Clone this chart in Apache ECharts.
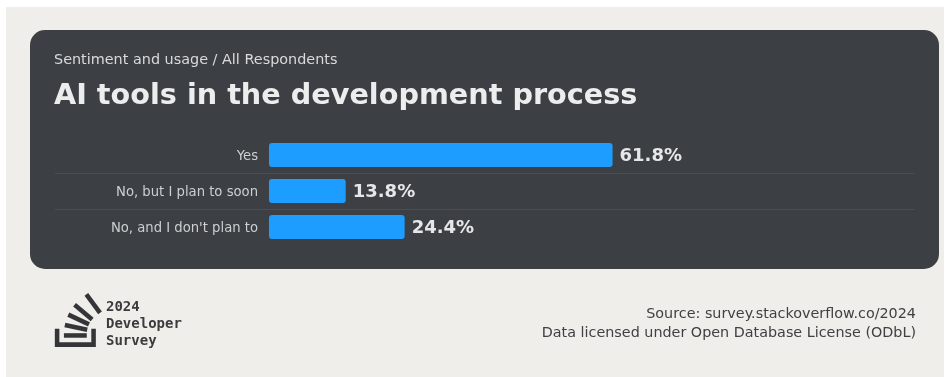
<!DOCTYPE html>
<html>
<head>
<meta charset="utf-8">
<script src="https://cdn.jsdelivr.net/npm/echarts@6/dist/echarts.min.js"></script>
<style>
  html, body { margin: 0; padding: 0; background: #ffffff; }
  #chart { width: 952px; height: 377px; }
</style>
</head>
<body>
<div id="chart"></div>
<script>
// Survey answers, top to bottom
const categories = ['Yes', 'No, but I plan to soon', "No, and I don't plan to"];
const shares = [61.8, 13.8, 24.4];

const subtitle = 'Sentiment and usage / All Respondents';
const title = 'AI tools in the development process';
const sourceLines = ['Source: survey.stackoverflow.co/2024', 'Data licensed under Open Database License (ODbL)'];
const badgeLines = ['2024', 'Developer', 'Survey'];

const FONT = '"DejaVu Sans", sans-serif';
const MONO = '"DejaVu Sans Mono", monospace';

// Stack logo outline (120-unit design grid), scaled into the footer
const logoShapes = [
  [[84.4,93.8],[84.4,70.6],[92.1,70.6],[92.1,101.5],[22.6,101.5],[22.6,70.6],[30.3,70.6],[30.3,93.8]],
  [[38.8,68.4],[76.7,76.3],[78.3,68.7],[40.4,60.8]],
  [[43.8,50.4],[78.9,66.8],[82.1,59.8],[47,43.3]],
  [[53.6,33.1],[83.4,57.9],[88.3,52],[58.5,27.2]],
  [[72.9,14.8],[96.1,46],[102.3,41.4],[79.1,10.2]],
  [[38,86],[76.7,86],[76.7,78.3],[38,78.3]]
];
const logoScale = 0.59, logoX = 41.5, logoY = 287;
const logoGraphics = logoShapes.map(pts => ({
  type: 'polygon',
  shape: { points: pts.map(p => [logoX + p[0] * logoScale, logoY + p[1] * logoScale]) },
  style: { fill: '#333538' },
  z: 5
}));

const chart = echarts.init(document.getElementById('chart'), null, { renderer: 'canvas' });

const gridTop = 137, gridBottom = 377 - 245;

chart.setOption({
  animation: false,
  backgroundColor: '#ffffff',
  graphic: [
    { type: 'rect', shape: { x: 6, y: 7, width: 938, height: 370 }, style: { fill: '#efeeeb' }, z: -10 },
    { type: 'rect', shape: { x: 30, y: 30, width: 909, height: 239, r: 15 }, style: { fill: '#3c4044' }, z: -9 },
    { type: 'text', left: 54, top: 53, style: { text: subtitle, font: '14.4px ' + FONT, fill: '#d9dadb' }, z: 5 },
    { type: 'text', left: 54, top: 82, style: { text: title, font: 'bold 28.7px ' + FONT, fill: '#eceded' }, z: 5 },
    ...badgeLines.map((t, i) => ({
      type: 'text', left: 106, top: 300 + i * 17,
      style: { text: t, font: 'bold 14px ' + MONO, fill: '#3a3b3d' }, z: 5
    })),
    ...sourceLines.map((t, i) => ({
      type: 'text', right: 36, top: 307 + i * 19,
      style: { text: t, font: '14.35px ' + FONT, fill: '#3f4042', textAlign: 'right' }, z: 5
    })),
    ...logoGraphics
  ],
  grid: [
    { left: 269, right: 37, top: gridTop, bottom: gridBottom },
    { left: 55, right: 37, top: gridTop, bottom: gridBottom }
  ],
  xAxis: [
    { type: 'value', gridIndex: 0, min: 0, max: 116.2, show: false, splitLine: { show: false } },
    { type: 'value', gridIndex: 1, min: 0, max: 1, show: false, splitLine: { show: false } }
  ],
  yAxis: [
    {
      type: 'category', gridIndex: 0, data: categories, inverse: true,
      axisLine: { show: false }, axisTick: { show: false },
      axisLabel: {
        margin: 11,
        formatter: v => '{c|' + v + '}',
        rich: { c: { color: '#cdcfd0', fontFamily: FONT, fontSize: 13.2, padding: [4, 0, 0, 0] } }
      },
      splitLine: { show: false }
    },
    {
      type: 'category', gridIndex: 1, data: categories, inverse: true,
      axisLine: { show: false }, axisTick: { show: false }, axisLabel: { show: false },
      splitLine: { show: true, showMinLine: false, showMaxLine: false, lineStyle: { color: '#4a4e52', width: 1 } }
    }
  ],
  series: [
    {
      type: 'bar', xAxisIndex: 0, yAxisIndex: 0,
      data: shares,
      barWidth: 24,
      itemStyle: { color: '#1d9dff', borderRadius: 3 },
      label: {
        show: true, position: 'right', distance: 7, offset: [0, 1.5],
        formatter: p => p.value.toFixed(1) + '%',
        color: '#e6e7e8', fontFamily: FONT, fontWeight: 'bold', fontSize: 18
      }
    }
  ]
});
</script>
</body>
</html>
